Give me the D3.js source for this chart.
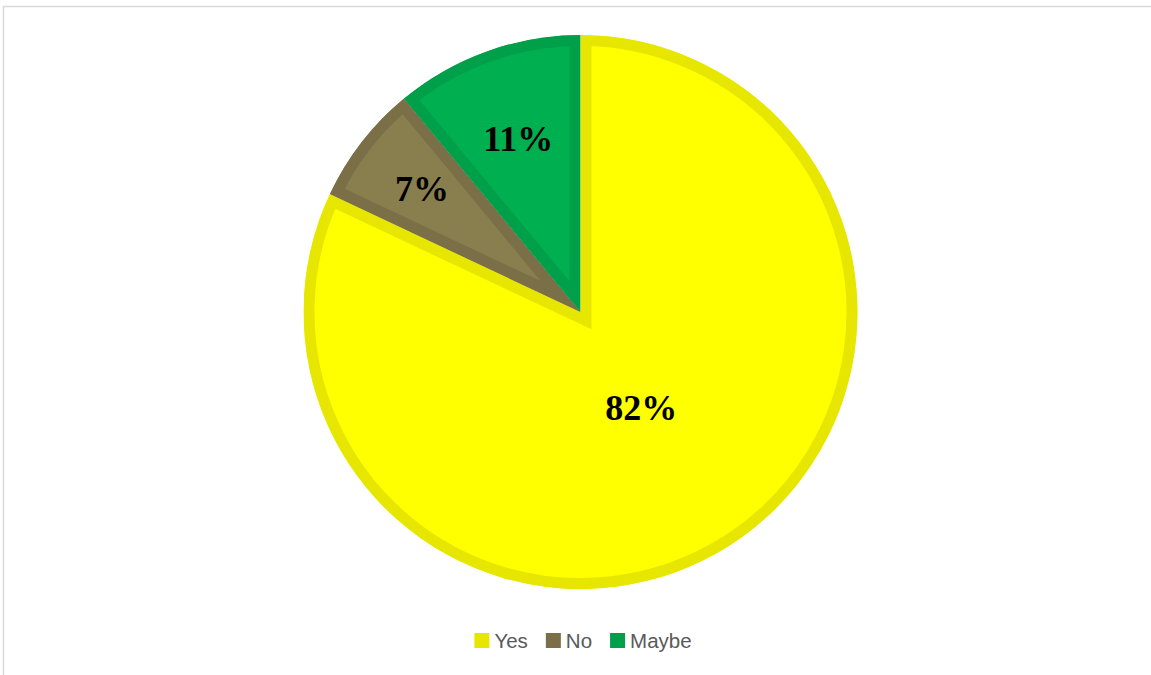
<!DOCTYPE html>
<html>
<head>
<meta charset="utf-8">
<script src="https://cdn.jsdelivr.net/npm/d3@7"></script>
<style>
  html, body { margin: 0; padding: 0; background: #ffffff; }
  svg { display: block; }
</style>
</head>
<body>
<script>
// Survey answers and their shares (percent)
const categories = ["Yes", "No", "Maybe"];
const values = [82, 7, 11];
const fillColors = ["#FFFF00", "#887E4E", "#00B050"];
const edgeColors = ["#E6E600", "#7A6F47", "#00A04A"];

const width = 1151, height = 675;
const cx = 580.5, cy = 312, radius = 277;

const svg = d3.select("body").append("svg")
  .attr("width", width)
  .attr("height", height);

// chart area frame
svg.append("rect")
  .attr("x", 3.5).attr("y", 6.5)
  .attr("width", width + 10).attr("height", height + 10)
  .attr("fill", "none")
  .attr("stroke", "#D9D9D9")
  .attr("stroke-width", 1.5);

const pie = d3.pie().sort(null).value(d => d.value);
const data = pie(categories.map((c, i) => ({ name: c, value: values[i], i })));

const arc = d3.arc().innerRadius(0).outerRadius(radius);

const g = svg.append("g").attr("transform", `translate(${cx},${cy})`);
const defs = svg.append("defs");

data.forEach((d, k) => {
  defs.append("clipPath").attr("id", "slice-clip-" + k)
    .append("path").attr("d", arc(d));
});

// slices with an inner border in a darker tone of the fill
g.selectAll("path.slice")
  .data(data)
  .join("path")
  .attr("class", "slice")
  .attr("d", arc)
  .attr("fill", d => fillColors[d.data.i])
  .attr("stroke", d => edgeColors[d.data.i])
  .attr("stroke-width", 22)
  .attr("stroke-linejoin", "miter")
  .attr("clip-path", (d, k) => `url(#slice-clip-${k})`);

// percentage labels: large slice labelled near its middle,
// narrow slices pushed further out so the text fits inside the wedge
const labelPos = d => {
  const span = d.endAngle - d.startAngle;
  const r = span > Math.PI ? radius * 0.41 : radius * (0.83 - span * 0.24);
  return d3.arc().innerRadius(r).outerRadius(r).centroid(d);
};

g.selectAll("text.pct")
  .data(data)
  .join("text")
  .attr("class", "pct")
  .attr("x", d => labelPos(d)[0])
  .attr("y", d => labelPos(d)[1])
  .attr("text-anchor", "middle")
  .attr("dominant-baseline", "central")
  .attr("font-family", "'Liberation Serif', 'Times New Roman', serif")
  .attr("font-weight", "bold")
  .attr("font-size", 36)
  .attr("fill", "#000000")
  .text(d => d.data.value + "%");

// legend
const legend = svg.append("g");
const sw = 15, gapText = 5, gapItem = 18;
let xPos = 0;
categories.forEach((c, i) => {
  const item = legend.append("g").attr("transform", `translate(${xPos},0)`);
  item.append("rect")
    .attr("x", 0).attr("y", -sw / 2)
    .attr("width", sw).attr("height", sw)
    .attr("fill", edgeColors[i]);
  const t = item.append("text")
    .attr("x", sw + gapText).attr("y", 7.5)
    .attr("font-family", "'Liberation Sans', Arial, sans-serif")
    .attr("font-size", 20.5)
    .attr("fill", "#595959")
    .text(c);
  xPos += sw + gapText + t.node().getComputedTextLength() + gapItem;
});
const legendW = xPos - gapItem;
legend.attr("transform", `translate(${583 - legendW / 2},640.5)`);
</script>
</body>
</html>
